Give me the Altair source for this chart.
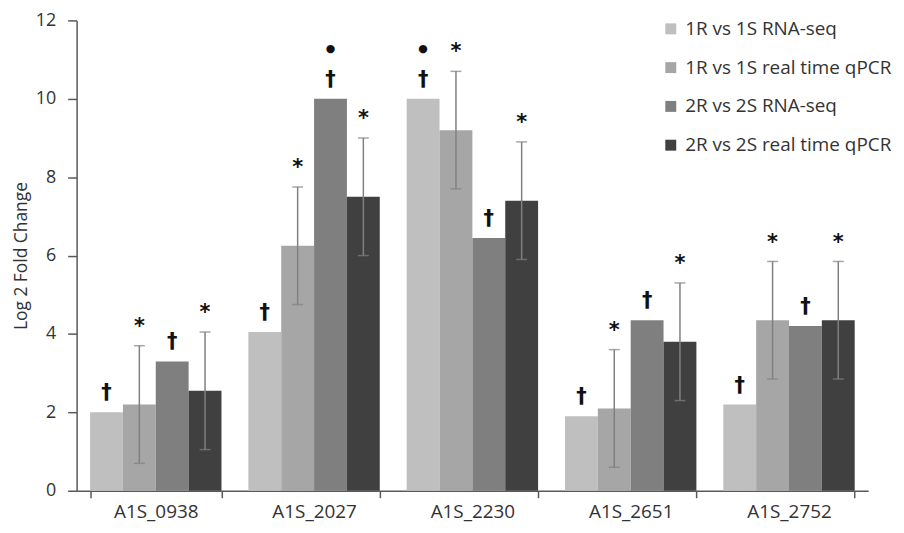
import altair as alt
import pandas as pd

genes = ["A1S_0938", "A1S_2027", "A1S_2230", "A1S_2651", "A1S_2752"]
series = ["1R vs 1S RNA-seq", "1R vs 1S real time qPCR",
          "2R vs 2S RNA-seq", "2R vs 2S real time qPCR"]
colors = ["#bfbfbf", "#a6a6a6", "#7f7f7f", "#404040"]

rna_1 = [2.0, 4.05, 10.0, 1.9, 2.2]
qpcr_1 = [2.2, 6.25, 9.2, 2.1, 4.35]
rna_2 = [3.3, 10.0, 6.45, 4.35, 4.2]
qpcr_2 = [2.55, 7.5, 7.4, 3.8, 4.35]
qpcr_1_err = [1.5, 1.5, 1.5, 1.5, 1.5]
qpcr_2_err = [1.5, 1.5, 1.5, 1.5, 1.5]
dot_1 = [False, False, True, False, False]
dot_2 = [False, True, False, False, False]

rows = []
for i, g in enumerate(genes):
    for s, vals, errs, dots, sym in [
        (series[0], rna_1, None, dot_1, "\u2020"),
        (series[1], qpcr_1, qpcr_1_err, None, "*"),
        (series[2], rna_2, None, dot_2, "\u2020"),
        (series[3], qpcr_2, qpcr_2_err, None, "*"),
    ]:
        v = vals[i]
        e = errs[i] if errs else None
        rows.append({
            "gene": g, "series": s, "value": v,
            "low": v - e if e is not None else None,
            "high": v + e if e is not None else None,
            "sym": sym,
            "sym_y": v + e if e is not None else v,
            "dot": bool(dots[i]) if dots else False,
        })
df = pd.DataFrame(rows)

FONT = "Open Sans"
YT = "Log 2 Fold Change"

xscale = alt.Scale(domain=genes, paddingInner=0.17, paddingOuter=0.085)
oscale = alt.Scale(domain=series, paddingInner=0, paddingOuter=0)
yscale = alt.Scale(domain=[0, 12], nice=False)
X = alt.X("gene:N", scale=xscale, sort=genes, title=None,
          axis=alt.Axis(labelAngle=0, tickBand="extent", tickSize=7,
                        labelPadding=5, labelFontSize=19))
XO = alt.XOffset("series:N", scale=oscale, sort=series)
yaxis = alt.Axis(values=[0, 2, 4, 6, 8, 10, 12], tickSize=9, labelPadding=12,
                 labelFontSize=18, grid=False, titleFontSize=17.5,
                 titleFontWeight="normal", titlePadding=5)

base = alt.Chart(df)

bars = base.mark_bar().encode(
    x=X, xOffset=XO,
    y=alt.Y("value:Q", scale=yscale, axis=yaxis, title=YT),
    color=alt.Color("series:N", scale=alt.Scale(domain=series, range=colors),
                    sort=series,
                    legend=alt.Legend(title=None, orient="none", legendX=588,
                                      legendY=-1, symbolType="square",
                                      symbolSize=121, labelFontSize=19,
                                      rowPadding=19, labelOffset=5, padding=0,
                                      symbolStrokeWidth=0, labelColor="#333333",
                                      labelLimit=300)),
)

err = base.transform_filter("isValid(datum.low)")
rules = err.mark_rule(color="#808080", strokeWidth=1.5).encode(
    x=X, xOffset=XO,
    y=alt.Y("low:Q", scale=yscale, title=YT), y2="high:Q")
cap_lo = err.mark_tick(color="#808080", size=11, thickness=1.5,
                       orient="horizontal").encode(
    x=X, xOffset=XO, y=alt.Y("low:Q", scale=yscale, title=YT))
cap_hi = err.mark_tick(color="#808080", size=11, thickness=1.5,
                       orient="horizontal").encode(
    x=X, xOffset=XO, y=alt.Y("high:Q", scale=yscale, title=YT))

syms = base.mark_text(fontSize=21, dy=-19, baseline="middle", color="#111111",
                      font="DejaVu Sans", fontWeight="bold").encode(
    x=X, xOffset=XO,
    y=alt.Y("sym_y:Q", scale=yscale, title=YT), text="sym:N")

dots = base.transform_filter("datum.dot").mark_text(
    text="\u25cf", fontSize=11, dy=-50, baseline="middle", color="#111111",
    font="DejaVu Sans").encode(
    x=X, xOffset=XO,
    y=alt.Y("value:Q", scale=yscale, title=YT))

chart = alt.layer(bars, rules, cap_lo, cap_hi, syms, dots).properties(
    width=796, height=473,
    autosize=alt.AutoSizeParams(type="none"),
    padding={"left": 69, "top": 11, "right": 28, "bottom": 33},
).configure(font=FONT).configure_view(stroke=None).configure_axis(
    domainColor="#595959", tickColor="#595959", domainWidth=1.5,
    tickWidth=1.5, labelColor="#333333", titleColor="#333333",
    labelFont=FONT, titleFont=FONT,
).configure_legend(labelFont=FONT)

chart.save("out.html", embed_options={"renderer": "svg", "actions": False})
